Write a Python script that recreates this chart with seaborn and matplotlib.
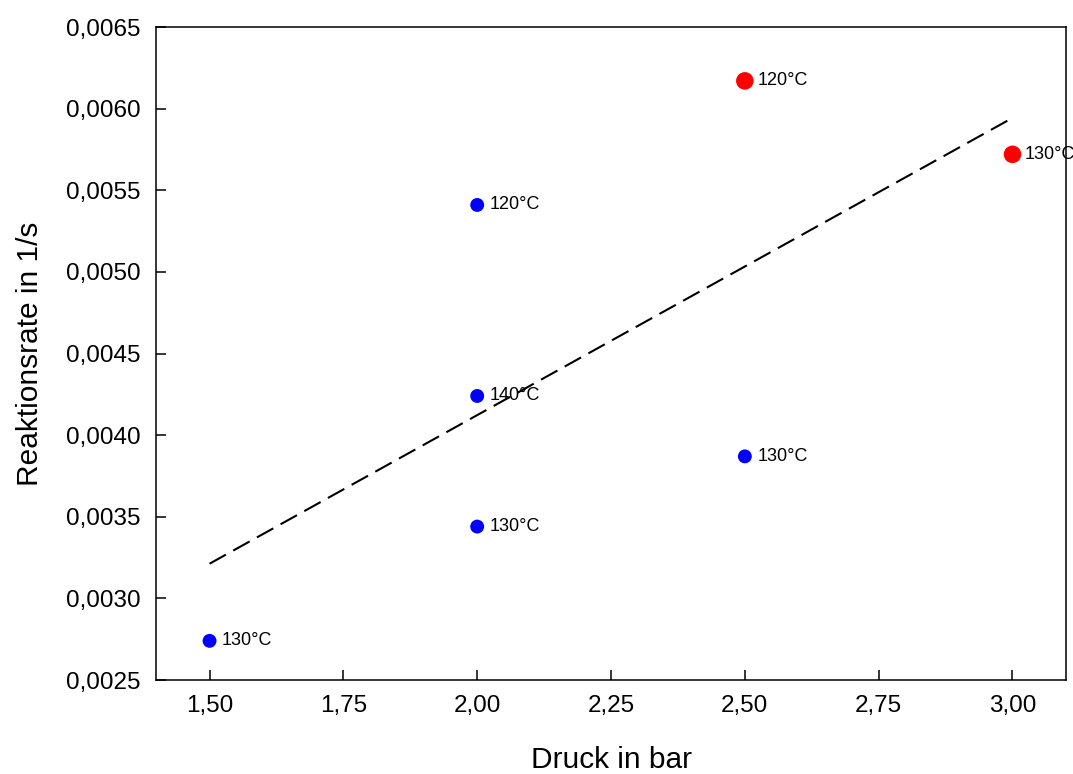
import numpy as np
import pandas as pd
import matplotlib
matplotlib.use("Agg")
import matplotlib.pyplot as plt
from matplotlib.ticker import FuncFormatter, MultipleLocator
import seaborn as sns

# Measured reaction rates vs. pressure
pressure = [1.5, 2.0, 2.0, 2.0, 2.5, 2.5, 3.0]
rate = [0.00274, 0.00344, 0.00424, 0.00541, 0.00387, 0.00617, 0.00572]
temperature = ["130°C", "130°C", "140°C", "120°C", "130°C", "120°C", "130°C"]
series = ["A", "A", "A", "A", "A", "B", "B"]

df = pd.DataFrame({"Druck": pressure, "Rate": rate,
                   "Temp": temperature, "Serie": series})

sns.set_style("ticks")
plt.rcParams["font.family"] = ["Liberation Sans", "DejaVu Sans"]

fig = plt.figure(figsize=(10.73, 7.74), dpi=100)
ax = fig.add_axes([0.1454, 0.1214, 0.8481, 0.8437])

# Linear fit over all measurements
sns.regplot(data=df, x="Druck", y="Rate", scatter=False, ci=None, ax=ax,
            line_kws=dict(color="black", lw=1.5, linestyle=(0, (9, 4))))

sns.scatterplot(data=df, x="Druck", y="Rate", hue="Serie", size="Serie",
                palette={"A": "#0000ff", "B": "#ff0000"},
                sizes={"A": 100, "B": 160},
                edgecolor="none", legend=False, ax=ax, zorder=3)

for xv, yv, t in zip(pressure, rate, temperature):
    ax.annotate(t, (xv, yv), xytext=(9, 0), textcoords="offset points",
                ha="left", va="center", fontsize=13, color="black")

ax.set_xlim(1.4, 3.1)
ax.set_ylim(0.0025, 0.0065)
ax.xaxis.set_major_locator(MultipleLocator(0.25))
ax.yaxis.set_major_locator(MultipleLocator(0.0005))
ax.xaxis.set_major_formatter(FuncFormatter(lambda v, p: f"{v:.2f}".replace(".", ",")))
ax.yaxis.set_major_formatter(FuncFormatter(lambda v, p: f"{v:.4f}".replace(".", ",")))
ax.set_xticks([1.5, 1.75, 2.0, 2.25, 2.5, 2.75, 3.0])

ax.tick_params(direction="in", length=7, width=1.1, labelsize=17.5, pad=11,
               colors="black")
for s in ax.spines.values():
    s.set_visible(True)
    s.set_linewidth(1.1)
    s.set_color("black")

ax.set_xlabel("Druck in bar", fontsize=21.5, labelpad=21, color="black")
ax.set_ylabel("Reaktionsrate in 1/s", fontsize=21.5, labelpad=16, color="black")

fig.savefig("out.png", dpi=100)
